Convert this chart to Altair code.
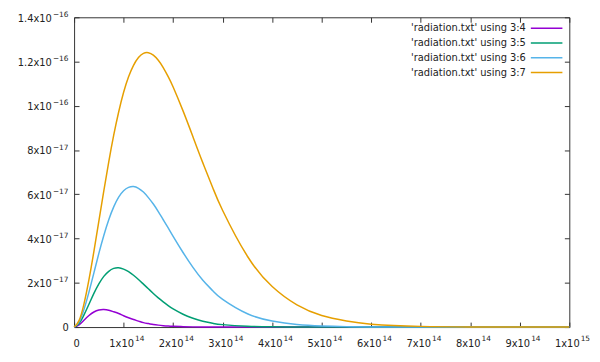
import altair as alt
import pandas as pd

# frequency (units of 1e14 Hz) shared by all four columns
X_E14 = [0, 0.1, 0.2, 0.3, 0.4, 0.5, 0.6, 0.7, 0.8, 0.9, 1.0,
         1.1, 1.2, 1.3, 1.4, 1.5, 1.6, 1.7, 1.8, 1.9, 2.0,
         2.2, 2.4, 2.6, 2.8, 3.0, 3.5, 4.0, 4.5, 5.0, 5.5, 6, 7, 8, 9, 10]

# intensities (units of 1e-17)
COL4 = [0, 0.10, 0.31, 0.52, 0.68, 0.77, 0.79, 0.76, 0.69, 0.61, 0.51,
        0.42, 0.34, 0.27, 0.20, 0.156, 0.117, 0.087, 0.064, 0.046, 0.034,
        0.017, 0.0085, 0.0041, 0.002, 0.0009, 0.00013, 0, 0, 0, 0, 0, 0, 0, 0, 0]
COL5 = [0, 0.16, 0.55, 1.03, 1.52, 1.95, 2.29, 2.52, 2.65, 2.68, 2.62,
        2.51, 2.34, 2.15, 1.94, 1.73, 1.52, 1.32, 1.14, 0.97, 0.82,
        0.58, 0.40, 0.26, 0.17, 0.11, 0.036, 0.011, 0.0031, 0.0009, 0.0002,
        0.00006, 0, 0, 0, 0]
COL6 = [0, 0.23, 0.80, 1.58, 2.45, 3.33, 4.14, 4.85, 5.43, 5.87, 6.16,
        6.31, 6.35, 6.27, 6.10, 5.85, 5.56, 5.22, 4.85, 4.48, 4.10,
        3.37, 2.70, 2.12, 1.64, 1.25, 0.60, 0.27, 0.115, 0.048, 0.019,
        0.0075, 0.0011, 0.00015, 0.00002, 0]
COL7 = [0, 0.29, 1.05, 2.14, 3.42, 4.79, 6.16, 7.47, 8.67, 9.72, 10.61,
        11.31, 11.83, 12.18, 12.37, 12.40, 12.29, 12.06, 11.73, 11.32, 10.85,
        9.77, 8.60, 7.42, 6.30, 5.27, 3.20, 1.83, 1.00, 0.52, 0.27,
        0.13, 0.031, 0.007, 0.0014, 0.0003]

SERIES = ["'radiation.txt' using 3:4", "'radiation.txt' using 3:5",
          "'radiation.txt' using 3:6", "'radiation.txt' using 3:7"]
COLORS = ["#9400d3", "#009e73", "#56b4e9", "#e69f00"]

X_TICKS = [0, 1, 2, 3, 4, 5, 6, 7, 8, 9, 10]
Y_TICKS = [0, 2, 4, 6, 8, 10, 12, 14]

rows = []
for name, ys in zip(SERIES, [COL4, COL5, COL6, COL7]):
    for x, y in zip(X_E14, ys):
        rows.append({"x": x, "y": y, "series": name})
df = pd.DataFrame(rows)

FONT = "DejaVu Sans"
TXT = "#222222"
LINE = "#333333"

xscale = alt.Scale(domain=[0, 10], nice=False)
yscale = alt.Scale(domain=[0, 14], nice=False)

x_base = "datum.value == 0 ? '0' : (datum.value == 10 ? '1x10' : datum.value + 'x10')"
x_exp = "datum.value == 0 ? '' : (datum.value == 10 ? '15' : '14')"
y_base = "datum.value == 0 ? '0' : (datum.value < 10 ? datum.value + 'x10' : (datum.value / 10) + 'x10')"
y_exp = "datum.value == 0 ? '' : (datum.value < 10 ? '\u221217' : '\u221216')"

common = dict(grid=False, domain=False, title=None, tickSize=5, offset=-5,
              tickColor=LINE, tickWidth=1, labelFont=FONT,
              labelColor=TXT, labelFlush=False, labelOverlap=False, labelBound=False)

is_zero = "datum.value == 0"

lines = alt.Chart(df).mark_line(strokeWidth=1.5, interpolate="natural").encode(
    x=alt.X("x:Q", scale=xscale,
            axis=alt.Axis(orient="bottom", values=X_TICKS, labelExpr=x_base,
                          labelFontSize=10, labelPadding=12,
                          labelAlign={"condition": {"test": is_zero, "value": "center"}, "value": "right"},
                          labelOffset={"condition": {"test": is_zero, "value": 2}, "value": 10},
                          **common)),
    y=alt.Y("y:Q", scale=yscale,
            axis=alt.Axis(orient="left", values=Y_TICKS, labelExpr=y_base,
                          labelFontSize=10, labelOffset=1,
                          labelPadding={"condition": {"test": is_zero, "value": 6}, "value": 23},
                          **common)),
    color=alt.Color("series:N", scale=alt.Scale(domain=SERIES, range=COLORS),
                    legend=alt.Legend(title=None, orient="none", legendX=474, legendY=6,
                                      symbolType="M-4,0H4", symbolSize=64,
                                      symbolStrokeWidth=1.5, labelAlign="right",
                                      labelOffset={"expr": "-26"}, labelFont=FONT,
                                      labelFontSize=10, labelColor=TXT,
                                      rowPadding=5, padding=0, labelLimit=0)),
)

mirror = dict(common)
mirror.update(labels=False)
frame = alt.Chart(df).mark_line(opacity=0).encode(
    x=alt.X("x:Q", scale=xscale, axis=alt.Axis(orient="top", values=X_TICKS, **mirror)),
    y=alt.Y("y:Q", scale=yscale, axis=alt.Axis(orient="right", values=Y_TICKS, **mirror)),
    detail="series:N",
)

expo_common = dict(common)
expo_common.update(tickOpacity=0)
expo = alt.Chart(df).mark_line(opacity=0).encode(
    x=alt.X("x:Q", scale=xscale,
            axis=alt.Axis(orient="bottom", values=X_TICKS, labelExpr=x_exp,
                          labelFontSize=7.5, labelPadding=8, labelAlign="left",
                          labelOffset=11, **expo_common)),
    y=alt.Y("y:Q", scale=yscale,
            axis=alt.Axis(orient="left", values=Y_TICKS, labelExpr=y_exp,
                          labelFontSize=7.5, labelPadding=22, labelAlign="left",
                          labelOffset={"expr": "-3"}, **expo_common)),
    detail="series:N",
)

chart = alt.layer(lines, frame, expo).resolve_axis(x="independent", y="independent").properties(
    width=502, height=314,
    autosize=alt.AutoSizeParams(type="none"),
    padding={"left": 67, "top": 7, "right": 23, "bottom": 33},
    background="white",
).configure_view(stroke=LINE, strokeWidth=1)

chart.save("out.html", embed_options={"renderer": "svg", "actions": False})
